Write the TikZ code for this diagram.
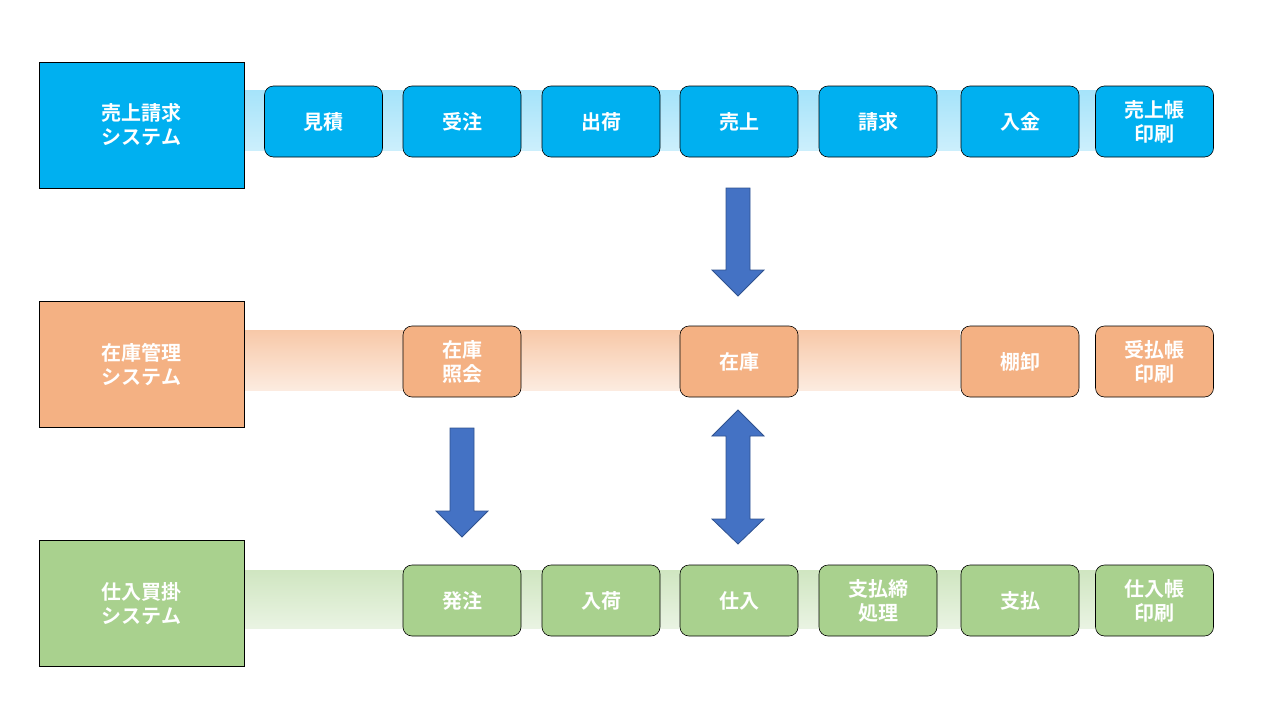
\documentclass[tikz,border=0pt]{standalone}
\usepackage{fontspec}
\newfontfamily\jp{Noto Sans CJK JP}[BoldFont={* Bold}]
\definecolor{sblue}{HTML}{00B0F0}
\definecolor{sorange}{HTML}{F4B183}
\definecolor{sgreen}{HTML}{A9D18E}
\definecolor{aarrow}{HTML}{4472C4}
\definecolor{aedge}{HTML}{2F528F}
\begin{document}
\begin{tikzpicture}[x=1pt,y=-1pt,
  sys/.style={draw=black,line width=0.8pt,minimum width=205pt,minimum height=126pt,inner sep=0pt,align=center,text=white,font=\jp\bfseries\fontsize{20}{24}\selectfont},
  box/.style={draw=black,line width=0.6pt,rounded corners=9pt,minimum width=118pt,minimum height=71pt,inner sep=0pt,align=center,text=white,font=\jp\bfseries\fontsize{20}{24}\selectfont},
  arr/.style={fill=aarrow,draw=aedge,line width=0.8pt}]
\useasboundingbox (0,0) rectangle (1280,720);
% bands
\shade[top color=sblue!35,bottom color=sblue!20] (244,90) rectangle (1100,150);
\shade[top color=sorange!70,bottom color=sorange!25] (244,330) rectangle (960,390);
\shade[top color=sgreen!55,bottom color=sgreen!25] (244,570) rectangle (1100,628);
% systems
\node[sys,fill=sblue] (s1) at (141.5,125) {売上請求\\システム};
\node[sys,fill=sorange] (s2) at (141.5,364.5) {在庫管理\\システム};
\node[sys,fill=sgreen] (s3) at (141.5,603.5) {仕入買掛\\システム};
% row 1
\foreach \n/\x/\t in {a1/323.5/見積,a2/462/受注,a3/601/出荷,a4/739/売上,a5/878/請求,a6/1020/入金,a7/1154.5/{売上帳\\印刷}}
  \node[box,fill=sblue] (\n) at (\x,121.5) {\t};
% row 2
\foreach \n/\x/\t in {b1/462/{在庫\\照会},b2/739/在庫,b3/1020/棚卸,b4/1154.5/{受払帳\\印刷}}
  \node[box,fill=sorange] (\n) at (\x,361.5) {\t};
% row 3
\foreach \n/\x/\t in {c1/462/発注,c2/601/入荷,c3/739/仕入,c4/878/{支払締\\処理},c5/1020/支払,c6/1154.5/{仕入帳\\印刷}}
  \node[box,fill=sgreen] (\n) at (\x,600.5) {\t};
% arrows
\draw[arr] (726,188) -- (750,188) -- (750,270) -- (764,270) -- (738,296) -- (712,270) -- (726,270) -- cycle;
\draw[arr] (450,428) -- (474,428) -- (474,511) -- (488,511) -- (462,537) -- (436,511) -- (450,511) -- cycle;
\draw[arr] (738,410) -- (764,436) -- (750,436) -- (750,519) -- (764,519) -- (738,544) -- (712,519) -- (726,519) -- (726,436) -- (712,436) -- cycle;
\end{tikzpicture}
\end{document}
